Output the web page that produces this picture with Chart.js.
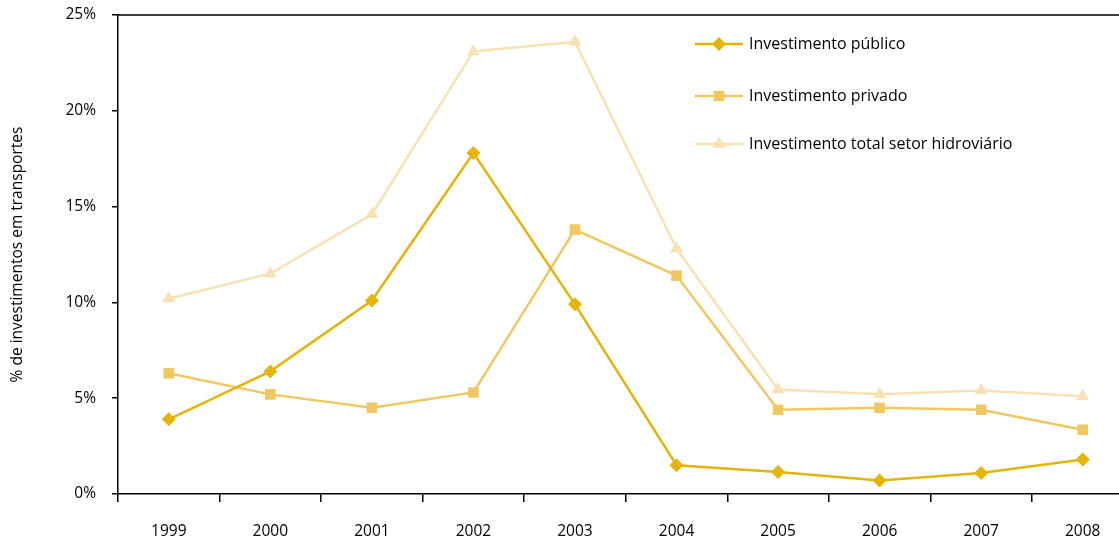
<!DOCTYPE html>
<html lang="pt">
<head>
    <meta charset="UTF-8">
    <title>Investimento no setor hidroviário</title>
    <style>
        html, body {
            margin: 0;
            padding: 0;
            background: #ffffff;
            overflow: hidden;
        }
        #wrap {
            width: 1141px;
            height: 541px;
        }
    </style>
    <script src="https://cdn.jsdelivr.net/npm/chart.js"></script>
</head>
<body>
    <div id="wrap">
        <canvas id="myChart" width="1141" height="541"></canvas>
    </div>

    <script>
        const years = ['1999', '2000', '2001', '2002', '2003', '2004', '2005', '2006', '2007', '2008'];
        const publico = [3.9, 6.4, 10.1, 17.8, 9.9, 1.5, 1.15, 0.7, 1.1, 1.8];
        const privado = [6.3, 5.2, 4.5, 5.3, 13.8, 11.4, 4.4, 4.5, 4.4, 3.35];
        const total = [10.2, 11.5, 14.6, 23.1, 23.6, 12.8, 5.45, 5.2, 5.4, 5.1];
        const yTicks = [0, 5, 10, 15, 20, 25];

        const FONT = "'Open Sans', 'Noto Sans', sans-serif";
        const FONT_SIZE = 15.5;
        const TEXT = '#000000';

        // legend drawn inside the plot area, top right
        const legendPlugin = {
            id: 'innerLegend',
            afterDraw(chart) {
                const ctx = chart.ctx;
                const rows = [44, 96, 144];
                ctx.save();
                // top border line
                ctx.strokeStyle = '#000';
                ctx.lineWidth = 1.5;
                ctx.beginPath();
                ctx.moveTo(chart.chartArea.left, chart.chartArea.top);
                ctx.lineTo(chart.chartArea.right, chart.chartArea.top);
                ctx.stroke();

                chart.data.datasets.forEach((ds, i) => {
                    const y = rows[i];
                    ctx.strokeStyle = ds.borderColor;
                    ctx.lineWidth = ds.borderWidth;
                    ctx.beginPath();
                    ctx.moveTo(695, y);
                    ctx.lineTo(743, y);
                    ctx.stroke();
                    ctx.fillStyle = ds.pointBackgroundColor;
                    ctx.strokeStyle = ds.pointBackgroundColor;
                    Chart.helpers.drawPoint(ctx, {
                        pointStyle: ds.pointStyle,
                        radius: ds.pointRadius,
                        rotation: 0,
                        borderWidth: 0
                    }, 719, y);
                    ctx.fillStyle = TEXT;
                    ctx.font = '16px ' + FONT;
                    ctx.textAlign = 'left';
                    ctx.textBaseline = 'middle';
                    ctx.fillText(ds.label, 749, y);
                });
                ctx.restore();
            }
        };

        const ctx = document.getElementById('myChart').getContext('2d');
        const myChart = new Chart(ctx, {
            type: 'line',
            data: {
                labels: years,
                datasets: [{
                    label: 'Investimento público',
                    data: publico,
                    borderColor: '#E6B30B',
                    pointBackgroundColor: '#E6B30B',
                    pointBorderWidth: 0,
                    pointStyle: 'rectRot',
                    pointRadius: 7,
                    borderWidth: 2.5,
                    tension: 0
                }, {
                    label: 'Investimento privado',
                    data: privado,
                    borderColor: '#F0C862',
                    pointBackgroundColor: '#F0C862',
                    pointBorderWidth: 0,
                    pointStyle: 'rect',
                    pointRadius: 7.5,
                    borderWidth: 2.5,
                    tension: 0
                }, {
                    label: 'Investimento total setor hidroviário',
                    data: total,
                    borderColor: '#F8E2B4',
                    pointBackgroundColor: '#F8E2B4',
                    pointBorderWidth: 0,
                    pointStyle: 'triangle',
                    pointRadius: 7.5,
                    borderWidth: 2.5,
                    tension: 0
                }]
            },
            options: {
                responsive: false,
                animation: false,
                layout: {
                    padding: { top: 15, right: 0, bottom: 0, left: 0 }
                },
                plugins: {
                    legend: { display: false },
                    tooltip: { enabled: false }
                },
                scales: {
                    x: {
                        offset: true,
                        grid: {
                            offset: true,
                            drawOnChartArea: false,
                            drawTicks: true,
                            tickLength: 8,
                            color: '#000',
                            lineWidth: 1.5
                        },
                        border: { color: '#000', width: 1.5 },
                        ticks: {
                            color: TEXT,
                            font: { family: FONT, size: FONT_SIZE },
                            padding: 20,
                            maxRotation: 0
                        },
                        afterFit(scale) { scale.height = 47; }
                    },
                    y: {
                        min: 0,
                        max: 25,
                        afterBuildTicks(scale) {
                            scale.ticks = yTicks.map(v => ({ value: v }));
                        },
                        grid: {
                            drawOnChartArea: false,
                            drawTicks: true,
                            tickLength: 6,
                            color: '#000',
                            lineWidth: 1.5
                        },
                        border: { color: '#000', width: 1.5 },
                        ticks: {
                            color: TEXT,
                            font: { family: FONT, size: FONT_SIZE },
                            padding: 16,
                            callback: v => v + '%'
                        },
                        title: {
                            display: true,
                            text: '% de investimentos em transportes',
                            color: TEXT,
                            font: { family: FONT, size: FONT_SIZE },
                            padding: { top: 8, bottom: 0 }
                        },
                        afterFit(scale) {
                            scale.width = 118;
                            scale.paddingTop = 0;
                            scale.paddingBottom = 0;
                        }
                    }
                }
            },
            plugins: [legendPlugin]
        });
    </script>
</body>
</html>
